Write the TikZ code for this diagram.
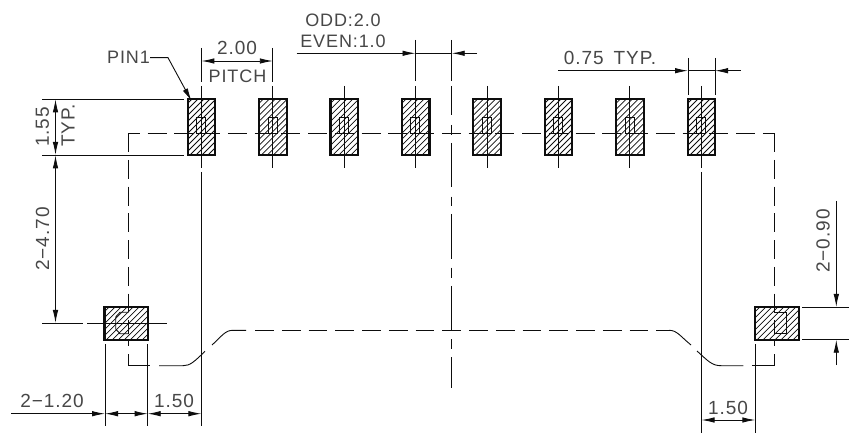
\documentclass[tikz,border=0pt]{standalone}
\usepackage{fontspec}
\setmainfont[LetterSpace=5]{Liberation Sans}
\usetikzlibrary{arrows.meta}
\definecolor{ink}{gray}{0.05}
\tikzset{
  thin line/.style={line width=0.9pt,draw=ink},
  padedge/.style={line width=2.2pt,draw=ink},
  hatchline/.style={line width=0.75pt,draw=ink},
  dim/.style={line width=0.9pt,draw=ink,{Latex[length=13pt,width=5.5pt]}-{Latex[length=13pt,width=5.5pt]}},
  endarrow/.style={line width=0.9pt,draw=ink,-{Latex[length=13pt,width=5.5pt]}},
  hid/.style={line width=0.9pt,draw=ink,dash pattern=on 18.8pt off 7.95pt},
  lbl/.style={font=\fontsize{19}{19}\selectfont,text=black!72,inner sep=0pt},
  lblsmall/.style={font=\fontsize{18}{18}\selectfont,text=black!72,inner sep=0pt}
}
\newcommand{\padbox}[4]{%
  \begin{scope}
    \clip (#1,#2) rectangle (#3,#4);
    \foreach \k in {0,6,...,170}{
      \draw[hatchline] (#1-70+\k,#4) -- ++(70,-70);
    }
  \end{scope}
  \draw[padedge] (#1,#2) rectangle (#3,#4);
}
\newcommand{\sideline}[1]{%
  \draw[hid] (#1,160) -- (#1,312.3);
  \draw[thin line] (#1,133.3) -- (#1,151.7);
  \draw[thin line] (#1,320) -- (#1,333.7);
  \draw[thin line] (#1,340) -- (#1,345.7);
}
\begin{document}
\begin{tikzpicture}[x=1pt,y=-1pt]
\useasboundingbox (0,0) rectangle (854,438);
\fill[white] (0,0) rectangle (854,438);
% pads
\foreach \x in {187.7,259.1,330.5,401.9,473.3,544.7,616.1,687.7}{
  \padbox{\x}{99.3}{\x+27.6}{155.3}
  \draw[thin line] (\x+9,133.3) -- (\x+9,117) -- (\x+18,117) -- (\x+18,133.3) -- cycle;
}
\padbox{104.5}{307}{148}{339.7}
\padbox{755.2}{307}{798.7}{339.7}
\draw[thin line] (128.7,312.3) -- (120,312.3) -- (115.7,317) -- (115.7,329) -- (120,333.7) -- (128.7,333.7);
\draw[thin line] (774,312.3) -- (786.7,312.3) -- (786.7,333.7) -- (774,333.7);
% hidden outline
\draw[thin line] (128.7,151.7) -- (128.7,133.3) -- (140,133.3);
\draw[hid] (147.7,133.3) -- (774,133.3);
\draw[thin line] (764,133.3) -- (774,133.3) -- (774,151.7);
\sideline{128.7}
\sideline{774}
\draw[thin line] (128.7,354) -- (128.7,365.7) -- (150,365.7);
\draw[thin line] (774,354) -- (774,365.7) -- (752.3,365.7);
\draw[thin line] (159,365.7) -- (183,365.7) .. controls (190,365.7) and (194,362) .. (205,351.3);
\draw[thin line] (212,345) .. controls (222,336) and (225,330.3) .. (233,330.3) -- (246,330.3);
\draw[hid] (255,330.3) -- (669,330.3);
\draw[thin line] (669,330.3) .. controls (677,330.3) and (680,336) .. (691,345);
\draw[thin line] (697,351) .. controls (708,361) and (712,365.7) .. (721,365.7) -- (743.3,365.7);
% centre lines
\foreach \x in {201.4,272.8,344.2,415.5,487,558.4,629.9,701.5}{
  \draw[thin line] (\x,86) -- (\x,168);
}
\draw[thin line] (201.4,172) -- (201.4,426);
\draw[thin line] (701.5,172) -- (701.5,433);
\draw[thin line] (201.4,48) -- (201.4,82);
\draw[thin line] (272.8,48) -- (272.8,82);
\draw[thin line] (415.5,40) -- (415.5,81);
\foreach \a/\b in {40/81,86/115,125/135,143/187,196.7/205.7,214/259.3,267.7/277.7,286/330.3,339/349,357/388}{
  \draw[thin line] (451.7,\a) -- (451.7,\b);
}
\draw[thin line] (688,58) -- (688,95);
\draw[thin line] (715,58) -- (715,95);
% extension lines
\draw[thin line] (42,99.3) -- (184,99.3);
\draw[thin line] (42,155) -- (184,155);
\draw[thin line] (42,323) -- (83,323) (87,323) -- (167,323);
\draw[thin line] (802,307) -- (849,307);
\draw[thin line] (802,339.7) -- (849,339.7);
\draw[thin line] (105,344) -- (105,426);
\draw[thin line] (147.7,344) -- (147.7,426);
\draw[thin line] (755.3,344) -- (755.3,433);
% dimensions
\draw[dim] (201.4,61) -- (272.8,61);
\draw[dim] (55.5,99.3) -- (55.5,155);
\draw[dim] (55.5,155.3) -- (55.5,323);
\draw[endarrow] (296.7,53.3) -- (415.5,53.3);
\draw[thin line] (415.5,53.3) -- (451.7,53.3);
\draw[endarrow] (477,53.3) -- (451.7,53.3);
\draw[endarrow] (558,70.7) -- (688,70.7);
\draw[thin line] (688,70.7) -- (715,70.7);
\draw[endarrow] (740.7,70.7) -- (715,70.7);
\draw[endarrow] (836.3,201) -- (836.3,307);
\draw[endarrow] (836.3,365) -- (836.3,339.7);
\draw[endarrow] (11,413.7) -- (105,413.7);
\draw[dim] (105,413.7) -- (147.7,413.7);
\draw[dim] (147.7,413.7) -- (201.4,413.7);
\draw[dim] (701.5,420) -- (755.3,420);
% PIN1 leader
\draw[endarrow] (150,57.7) -- (168,57.7) -- (191.5,101);
% labels
\node[lblsmall] (pin) at (128.5,57) {PIN1};
\node[lbl] (d200) at (237,48) {2.00};
\node[lblsmall] (pitch) at (237.5,76) {PITCH};
\node[lblsmall] (odd) at (343,20) {ODD:2.0};
\node[lblsmall] (even) at (343,41.5) {EVEN:1.0};
\node[lbl] (d075) at (610,58) {0.75\hspace{10pt}TYP.};
\node[lbl,rotate=90] (d155) at (42.5,127) {1.55};
\node[lbl,rotate=90] (typ) at (68,125.5) {TYP.};
\node[lbl,rotate=90] (d470) at (42.5,239) {2−4.70};
\node[lbl,rotate=90] (d090) at (823,241) {2−0.90};
\node[lbl] (d120) at (52,401) {2−1.20};
\node[lbl] (d150a) at (174,401) {1.50};
\node[lbl] (d150b) at (728,408) {1.50};
\end{tikzpicture}
\end{document}
